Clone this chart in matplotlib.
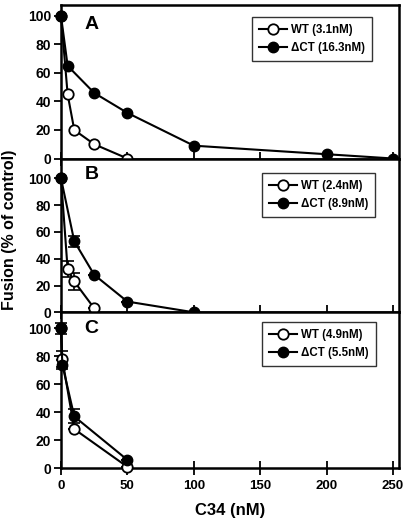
import matplotlib.pyplot as plt

plt.rcParams['font.family'] = ['Liberation Sans', 'DejaVu Sans']
plt.rcParams['font.weight'] = 'bold'

# panel A
a_wt_x = [0, 5, 10, 25, 50]
a_wt_y = [100, 45, 20, 10, 0]
a_ct_x = [0, 5, 25, 50, 100, 200, 250]
a_ct_y = [100, 65, 46, 32, 9, 3, 0]

# panel B
b_wt_x = [0, 5, 10, 25]
b_wt_y = [100, 32, 23, 3]
b_wt_err = [0, 6, 6, 0]
b_ct_x = [0, 10, 25, 50, 100]
b_ct_y = [100, 53, 28, 8, 0]
b_ct_err = [0, 4, 0, 0, 0]

# panel C
c_wt_x = [0, 1, 10, 50]
c_wt_y = [100, 78, 28, 1]
c_wt_err = [0, 6, 0, 0]
c_ct_x = [0, 1, 10, 50]
c_ct_y = [100, 74, 37, 6]
c_ct_err = [4, 3, 5, 0]

labels = [('WT (3.1nM)', '\u0394CT (16.3nM)'),
          ('WT (2.4nM)', '\u0394CT (8.9nM)'),
          ('WT (4.9nM)', '\u0394CT (5.5nM)')]
letters = ['A', 'B', 'C']

W, H = 403, 525
fig = plt.figure(figsize=(W / 100, H / 100), dpi=100)

# pixel boxes: top, bottom, ymax
boxes = [(5, 158.5, 107.7), (158.5, 312.3, 114.8), (312.3, 468.3, 111.4)]
left, right = 61, 399

data = [
    (a_wt_x, a_wt_y, None, a_ct_x, a_ct_y, None),
    (b_wt_x, b_wt_y, b_wt_err, b_ct_x, b_ct_y, b_ct_err),
    (c_wt_x, c_wt_y, c_wt_err, c_ct_x, c_ct_y, c_ct_err),
]
# legend upper-left corners in pixels
legend_corner = [(252, 17), (262, 173), (262, 322)]

for i, (top, bot, ymax) in enumerate(boxes):
    ax = fig.add_axes([left / W, 1 - bot / H, (right - left) / W, (bot - top) / H])
    wx, wy, we, cx, cy, ce = data[i]
    if we is not None:
        ax.errorbar(wx, wy, yerr=we, fmt='none', ecolor='black', elinewidth=1.2,
                    capsize=4, capthick=1.2, clip_on=False, zorder=2)
        ax.errorbar(cx, cy, yerr=ce, fmt='none', ecolor='black', elinewidth=1.2,
                    capsize=4, capthick=1.2, clip_on=False, zorder=2)
    l1, = ax.plot(wx, wy, '-o', color='black', mfc='white', mec='black', mew=1.3,
                  ms=7.5, lw=1.5, clip_on=False, zorder=3)
    l2, = ax.plot(cx, cy, '-o', color='black', mfc='black', mec='black',
                  ms=7.5, lw=1.5, clip_on=False, zorder=4)
    ax.set_xlim(0, 254.5)
    ax.set_ylim(0, ymax)
    ax.set_yticks([0, 20, 40, 60, 80, 100])
    ax.set_xticks([0, 50, 100, 150, 200, 250])
    for s in ax.spines.values():
        s.set_linewidth(1.8)
    ax.tick_params(axis='y', direction='out', length=5, width=1.3, labelsize=10, pad=2)
    ax.tick_params(axis='x', direction='inout', length=10, width=1.3, labelsize=9.5)
    if i < 2:
        ax.tick_params(axis='x', labelbottom=False)
    ax.text(0.07, 0.93 if i == 0 else 0.95, letters[i], transform=ax.transAxes,
            fontsize=14, fontweight='bold', va='top', ha='left')
    lx0, ly0 = legend_corner[i]
    leg = ax.legend([l1, l2], labels[i], loc='upper left',
                    bbox_to_anchor=((lx0 - left) / (right - left), (bot - ly0) / (bot - top)),
                    fontsize=8.3, frameon=True, fancybox=False, edgecolor='black',
                    handlelength=2.4, borderpad=0.6, labelspacing=0.5, handletextpad=0.4,
                    borderaxespad=0)
    leg.get_frame().set_linewidth(1.0)
    if i == 2:
        ax.set_xlabel('C34 (nM)', fontsize=12, fontweight='bold', labelpad=8)

fig.text(10 / W, 1 - 230 / H, 'Fusion (% of control)', rotation=90, fontsize=11.5,
         fontweight='bold', va='center', ha='center')

fig.savefig('out.png', dpi=100)
